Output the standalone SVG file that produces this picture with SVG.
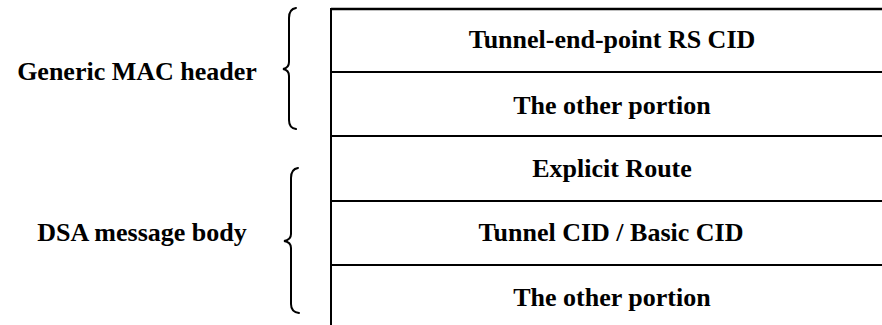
<svg xmlns="http://www.w3.org/2000/svg" width="882" height="325" viewBox="0 0 882 325">
<style>
.ln{stroke:#000;stroke-width:2;fill:none}
.br{stroke:#000;stroke-width:2;fill:none;stroke-linecap:round}
text{font-family:'Liberation Serif','Times New Roman','DejaVu Serif',serif;font-weight:bold;font-size:26px;fill:#000;text-anchor:middle}
</style>
<rect width="882" height="325" fill="#fff"/>
<g id="frame">
<line class="ln" x1="331" y1="9" x2="882" y2="9" style="stroke-width:2.5"/>
<line class="ln" x1="331" y1="8" x2="331" y2="325"/>
</g>
<g id="row-tunnel-end-point">
<text x="612" y="48">Tunnel-end-point RS CID</text>
<line class="ln" x1="331" y1="72" x2="882" y2="72"/>
</g>
<g id="row-other-portion-1">
<text x="612" y="114">The other portion</text>
<line class="ln" x1="331" y1="136" x2="882" y2="136"/>
</g>
<g id="row-explicit-route">
<text x="612" y="177">Explicit Route</text>
<line class="ln" x1="331" y1="201" x2="882" y2="201"/>
</g>
<g id="row-tunnel-cid">
<text x="611" y="241">Tunnel CID / Basic CID</text>
<line class="ln" x1="331" y1="265" x2="882" y2="265"/>
</g>
<g id="row-other-portion-2">
<text x="612" y="306">The other portion</text>
</g>
<g id="label-generic-mac-header">
<text x="137" y="80">Generic MAC header</text>
</g>
<g id="label-dsa-message-body">
<text x="142" y="241">DSA message body</text>
</g>
<g id="connectors">
<path class="br" d="M296 8 Q289 9 289 18 L289 62 Q289 68 283 69 Q289 70 289 76 L289 120 Q289 128 296 129"/>
<path class="br" d="M298 168 Q291 169 291 178 L291 234 Q291 240 284 241 Q291 242 291 248 L291 304 Q291 312 299 313"/>
</g>
</svg>
